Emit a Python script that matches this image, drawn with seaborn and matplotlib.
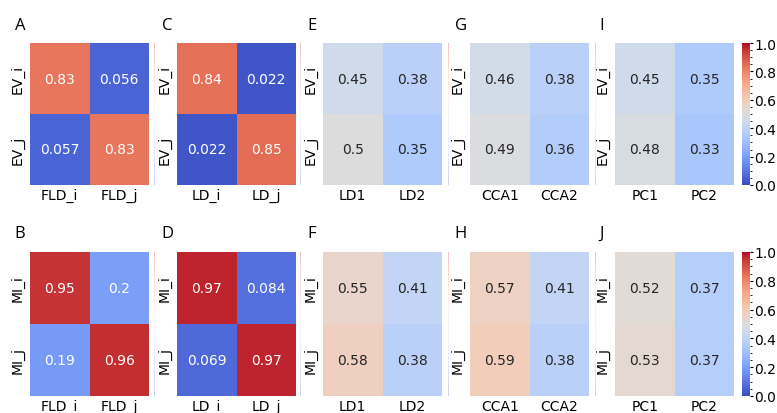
import matplotlib
matplotlib.use("Agg")
import matplotlib.pyplot as plt
from matplotlib.ticker import MultipleLocator
import numpy as np
import seaborn as sns

# values
ev_fld = [[0.83, 0.056], [0.057, 0.83]]
ev_ld = [[0.84, 0.022], [0.022, 0.85]]
ev_lda = [[0.45, 0.38], [0.50, 0.35]]
ev_cca = [[0.46, 0.38], [0.49, 0.36]]
ev_pca = [[0.45, 0.35], [0.48, 0.33]]
mi_fld = [[0.95, 0.20], [0.19, 0.96]]
mi_ld = [[0.97, 0.084], [0.069, 0.97]]
mi_lda = [[0.55, 0.41], [0.58, 0.38]]
mi_cca = [[0.57, 0.41], [0.59, 0.38]]
mi_pca = [[0.52, 0.37], [0.53, 0.37]]

fld_labels = ["FLD_i", "FLD_j"]
ld_labels = ["LD_i", "LD_j"]
lda_labels = ["LD1", "LD2"]
cca_labels = ["CCA1", "CCA2"]
pca_labels = ["PC1", "PC2"]
ev_rows = ["EV_i", "EV_j"]
mi_rows = ["MI_i", "MI_j"]

rows = [
    (ev_rows, [ev_fld, ev_ld, ev_lda, ev_cca, ev_pca], ["A", "C", "E", "G", "I"]),
    (mi_rows, [mi_fld, mi_ld, mi_lda, mi_cca, mi_pca], ["B", "D", "F", "H", "J"]),
]
col_labels = [fld_labels, ld_labels, lda_labels, cca_labels, pca_labels]

W, H = 777, 414
fig = plt.figure(figsize=(W / 100, H / 100), dpi=100)

lefts = [30, 177, 323, 470, 615]
thin_cb = [154, 300, 448, 595]
tops = [44, 253]
bottoms = [186, 397]
ax_w = 119


def frac(x0, y0, x1, y1):
    return [x0 / W, 1 - y1 / H, (x1 - x0) / W, (y1 - y0) / H]


for r, (ylabels, mats, letters) in enumerate(rows):
    for c in range(5):
        ax = fig.add_axes(frac(lefts[c], tops[r], lefts[c] + ax_w, bottoms[r]))
        if c < 4:
            cax = fig.add_axes(frac(thin_cb[c], tops[r], thin_cb[c] + 1, bottoms[r]))
        else:
            cax = fig.add_axes(frac(742, tops[r], 750, bottoms[r]))
        sns.heatmap(np.array(mats[c]), ax=ax, cbar_ax=cax, cmap="coolwarm",
                    vmin=0, vmax=1, annot=True, annot_kws={"fontsize": 10},
                    xticklabels=col_labels[c], yticklabels=ylabels)
        ax.tick_params(axis="x", length=0, labelsize=10, pad=2)
        ax.tick_params(axis="y", length=0, labelsize=10, pad=4)
        ax.set_yticklabels(ylabels, rotation=90, va="center")
        if c < 4:
            cax.set_axis_off()
            for coll in cax.collections:
                coll.set_alpha(0.25)
        else:
            cax.set_yticks([0, 0.2, 0.4, 0.6, 0.8, 1.0])
            cax.yaxis.set_minor_locator(MultipleLocator(0.05))
            cax.tick_params(labelsize=10, length=2, width=0.8, pad=1)
            cax.tick_params(which="minor", length=1.5, width=0.6)
        ax.text(-0.13, 1.13, letters[c], transform=ax.transAxes, fontsize=12,
                family=["Open Sans", "DejaVu Sans"], ha="left", va="center")

fig.savefig("out.png", dpi=100)
